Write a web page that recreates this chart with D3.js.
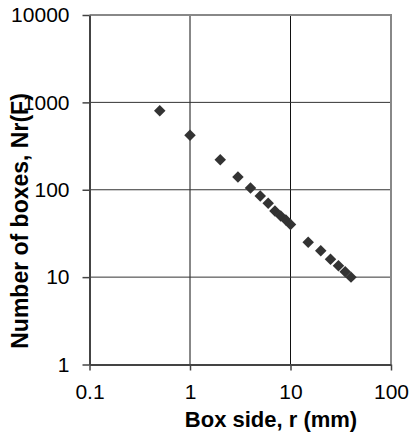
<!DOCTYPE html>
<html>
<head>
  <meta charset="utf-8">
  <title>Box counting</title>
  <style>
    body { margin: 0; background: #fff; }
    text { font-family: "Liberation Sans", Arial, sans-serif; }
  </style>
</head>
<body>
  <svg width="412" height="436"></svg>
  <script src="https://d3js.org/d3.v7.min.js"></script>
  <script>
    // data
    var boxSide = [0.5, 1, 2, 3, 4, 5, 6, 7, 8, 9, 10, 15, 20, 25, 30, 35, 40];
    var boxCount = [800, 420, 220, 140, 105, 85, 70, 57, 50, 45, 40, 25, 20, 16, 13.5, 11.5, 10];
    var xTicks = [0.1, 1, 10, 100];
    var yTicks = [1, 10, 100, 1000, 10000];

    var svg = d3.select("svg");
    var mLeft = 89.5, mRight = 391, mTop = 15, mBottom = 364.5;

    var x = d3.scaleLog().domain([0.1, 100]).range([mLeft, mRight]);
    var y = d3.scaleLog().domain([1, 10000]).range([mBottom, mTop]);

    // grid
    svg.selectAll(".vgrid")
      .data([1, 10])
      .enter().append("line")
      .attr("x1", d => x(d)).attr("x2", d => x(d))
      .attr("y1", mTop).attr("y2", mBottom)
      .attr("stroke", "#111").attr("stroke-width", 1);

    svg.selectAll(".hgrid")
      .data([10, 100, 1000])
      .enter().append("line")
      .attr("x1", mLeft).attr("x2", mRight)
      .attr("y1", d => y(d)).attr("y2", d => y(d))
      .attr("stroke", "#333").attr("stroke-width", 1);

    // top & right border
    svg.append("path")
      .attr("d", "M" + mLeft + "," + mTop + "H" + mRight + "V" + mBottom)
      .attr("fill", "none").attr("stroke", "#888").attr("stroke-width", 2);

    // axes
    var xAxis = d3.axisBottom(x).tickValues(xTicks)
      .tickFormat(d3.format("~g")).tickSizeInner(6).tickSizeOuter(0).tickPadding(14);
    var yAxis = d3.axisLeft(y).tickValues(yTicks)
      .tickFormat(d3.format("~g")).tickSizeInner(7).tickSizeOuter(0).tickPadding(13);

    var gx = svg.append("g").attr("transform", "translate(0," + mBottom + ")").call(xAxis);
    var gy = svg.append("g").attr("transform", "translate(" + mLeft + ",0)").call(yAxis);

    [gx, gy].forEach(function (g) {
      g.select(".domain").attr("stroke", "#444").attr("stroke-width", 2);
      g.selectAll(".tick line").attr("stroke", "#444").attr("stroke-width", 1.5);
      g.selectAll(".tick text")
        .attr("font-family", "Liberation Sans, Arial, sans-serif")
        .attr("font-size", 21).attr("fill", "#000");
    });

    // points
    var diamond = d3.symbol().type(d3.symbolSquare).size(66);
    svg.selectAll(".pt")
      .data(boxSide.map((v, i) => [v, boxCount[i]]))
      .enter().append("path")
      .attr("d", diamond)
      .attr("transform", d => "translate(" + x(d[0]) + "," + y(d[1]) + ") rotate(45)")
      .attr("fill", "#333");

    // titles
    svg.append("text")
      .attr("x", 271).attr("y", 427)
      .attr("text-anchor", "middle")
      .attr("font-size", 22).attr("font-weight", "bold")
      .text("Box side, r (mm)");

    svg.append("text")
      .attr("transform", "translate(28,221) rotate(-90)")
      .attr("text-anchor", "middle")
      .attr("font-size", 23).attr("font-weight", "bold")
      .text("Number of boxes, Nr(F)");
  </script>
</body>
</html>
